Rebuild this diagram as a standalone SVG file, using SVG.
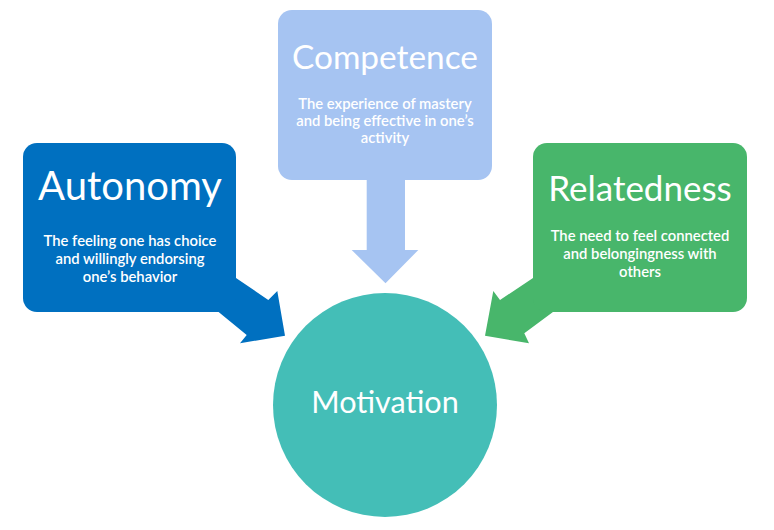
<svg xmlns="http://www.w3.org/2000/svg" width="774" height="530" viewBox="0 0 774 530">
<style>
text{font-family:Lato,"Open Sans","Liberation Sans",sans-serif;fill:#ffffff;text-anchor:middle}
.title{font-weight:400}
.body{font-size:14.8px;font-weight:600}
.auto{fill:#0070C0}
.comp{fill:#A6C4F2}
.rel{fill:#48B66B}
.mot{fill:#44BEB7}
</style>
<rect width="774" height="530" fill="#ffffff"/>
<g id="connectors">
<polygon class="auto" points="218,278 236,278 268.3,300 277.3,291 285,335.7 240,343.3 246.7,335 218.3,311.7"/>
<polygon class="comp" points="366.7,170 405,170 405,250 418.3,250 385.5,283.3 351.7,250 366.7,250"/>
<polygon class="rel" points="553,278 533,278 500,300 493.3,291 485,335.7 529,343.3 524.3,333.3 553.3,311.7"/>
</g>
<g id="autonomy">
<rect class="auto" x="23" y="143" width="213" height="169" rx="14"/>
<text class="title" x="130" y="200" font-size="40">Autonomy</text>
<text class="body" x="130" y="246">The feeling one has choice</text>
<text class="body" x="130" y="264">and willingly endorsing</text>
<text class="body" x="130" y="282">one’s behavior</text>
</g>
<g id="competence">
<rect class="comp" x="278" y="10" width="214" height="170" rx="14"/>
<text class="title" x="385" y="69" font-size="33.4">Competence</text>
<text class="body" x="385" y="109">The experience of mastery</text>
<text class="body" x="385" y="126">and being effective in one’s</text>
<text class="body" x="385" y="143">activity</text>
</g>
<g id="relatedness">
<rect class="rel" x="533" y="143" width="214" height="169" rx="14"/>
<text class="title" x="640" y="201" font-size="35">Relatedness</text>
<text class="body" x="640" y="241">The need to feel connected</text>
<text class="body" x="640" y="259">and belongingness with</text>
<text class="body" x="640" y="277">others</text>
</g>
<g id="motivation">
<circle class="mot" cx="385" cy="405" r="112"/>
<text class="title" x="385" y="413" font-size="30.6">Motivation</text>
</g>
</svg>
